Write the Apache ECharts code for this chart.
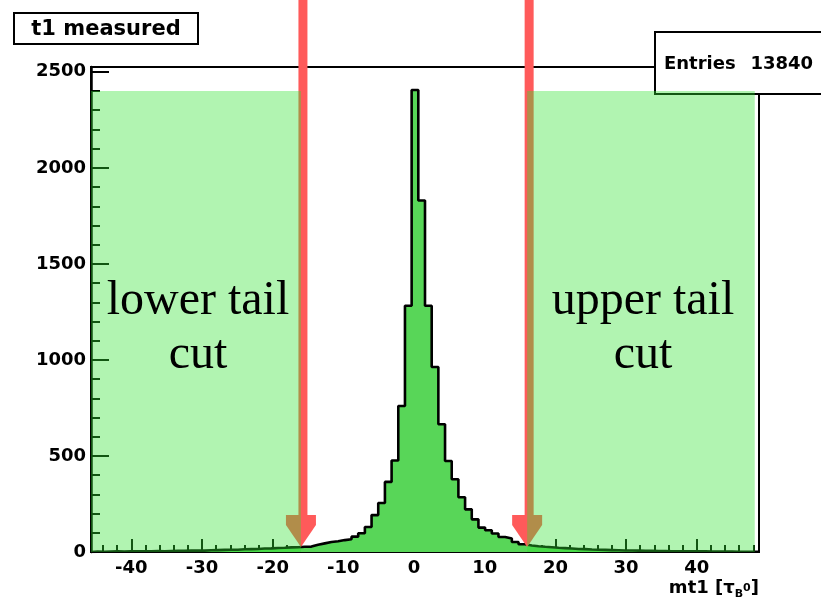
<!DOCTYPE html>
<html>
<head>
<meta charset="utf-8">
<title>t1 measured</title>
<script src="https://cdn.jsdelivr.net/npm/echarts@6/dist/echarts.min.js"></script>
<style>
    html, body { margin: 0; padding: 0; background: #ffffff; }
    #GraficoT1 { width: 821px; height: 602px; }
</style>
</head>
<body>
<div id="GraficoT1"></div>
<script>
// HISTOGRAMA mt1 CON LOS CORTES DE COLA

// rango del histograma (100 bins)
const xMin = -45.7;
const xMax = 48.8;
const yMax = 2525;

// contenido de cada bin, de izquierda a derecha
const colaIzquierda = [2, 1, 2, 3, 2, 3, 4, 3, 4, 5, 4, 5, 6, 6, 7, 8, 7, 9, 10, 11,
    12, 12, 14, 15, 16, 18, 19, 21, 22, 24, 25, 27];
const nucleo = [28, 38, 45, 52, 56, 62, 66, 80, 98, 130, 192, 255, 365, 476, 760, 1282,
    2405, 1830, 1282, 963, 665, 474, 379, 285, 222, 170, 127, 113, 96, 78, 70, 52, 40];
const colaDerecha = [34, 30, 27, 25, 22, 20, 18, 16, 15, 13, 12, 11, 10, 9, 8, 8, 7, 6, 6, 5,
    5, 4, 4, 4, 3, 3, 3, 2, 2, 2, 2, 1, 1, 1, 1];

// marcas de los ejes
const xMarcas = [-40, -30, -20, -10, 0, 10, 20, 30, 40];
const xMarcasMenores = [-44, -42, -38, -36, -34, -32, -28, -26, -24, -22, -18, -16, -14, -12,
    -8, -6, -4, -2, 2, 4, 6, 8, 12, 14, 16, 18, 22, 24, 26, 28, 32, 34, 36, 38, 42, 44, 46, 48];
const yMarcas = [0, 500, 1000, 1500, 2000, 2500];
const yMarcasMenores = [100, 200, 300, 400, 600, 700, 800, 900, 1100, 1200, 1300, 1400,
    1600, 1700, 1800, 1900, 2100, 2200, 2300, 2400];

// cortes y zonas de cola
const cortes = [-16, 16];
const zonasCola = [[-45.7, -16], [16, 48.2]];
const alturaZona = 2400;
const textosZona = ['lower tail\ncut', 'upper tail\ncut'];

const titulo = 't1 measured';
const entradas = 13840;

const fuente = 'DejaVu Sans';
const rojo = '#ff5a5a';

const iniciarGrafico = () => {
    const grafico = echarts.init(document.getElementById('GraficoT1'), null, { renderer: 'canvas' });

    const bins = colaIzquierda.concat(nucleo, colaDerecha);
    const ancho = (xMax - xMin) / bins.length;

    // puntos del contorno escalonado
    const puntos = [[xMin, 0]];
    bins.forEach((c, i) => puntos.push([xMin + i * ancho, c]));
    puntos.push([xMax, bins[bins.length - 1]]);
    puntos.push([xMax, 0]);

    const estiloEtiqueta = {
        color: '#000', fontFamily: fuente, fontWeight: 'bold', fontSize: 18,
        formatter: v => String(v)
    };

    const option = {
        animation: false,
        grid: {
            left: 91, right: 62, top: 67, bottom: 50,
            show: true, borderColor: '#000', borderWidth: 2, backgroundColor: 'transparent',
            outerBoundsMode: 'none'
        },
        xAxis: [
            {
                type: 'value', min: xMin, max: xMax, position: 'bottom',
                axisLine: { show: true, onZero: false, lineStyle: { color: '#000', width: 2 } },
                axisTick: { show: true, inside: true, length: 13, customValues: xMarcas, lineStyle: { color: '#000', width: 2 } },
                axisLabel: Object.assign({ customValues: xMarcas, margin: 7 }, estiloEtiqueta),
                splitLine: { show: false },
                name: '{m|mt1 [τ}{s|B}{o|0}{m|]}',
                nameLocation: 'end',
                nameGap: 0,
                nameMoveOverlap: false,
                nameTextStyle: {
                    align: 'right', verticalAlign: 'top', padding: [24, 0, 0, 0],
                    rich: {
                        m: { fontFamily: fuente, fontWeight: 'bold', fontSize: 18, color: '#000', lineHeight: 24, verticalAlign: 'middle' },
                        s: { fontFamily: fuente, fontWeight: 'bold', fontSize: 11, color: '#000', lineHeight: 24, verticalAlign: 'bottom' },
                        o: { fontFamily: fuente, fontWeight: 'bold', fontSize: 11, color: '#000', lineHeight: 24, verticalAlign: 'middle' }
                    }
                }
            },
            {
                type: 'value', min: xMin, max: xMax, position: 'bottom',
                axisLine: { show: false, onZero: false },
                axisTick: { show: true, inside: true, length: 7, customValues: xMarcasMenores, lineStyle: { color: '#000', width: 2 } },
                axisLabel: { show: false },
                splitLine: { show: false }
            }
        ],
        yAxis: [
            {
                type: 'value', min: 0, max: yMax, position: 'left',
                axisLine: { show: true, onZero: false, lineStyle: { color: '#000', width: 2.5 } },
                axisTick: { show: true, inside: true, length: 18, customValues: yMarcas, lineStyle: { color: '#000', width: 2 } },
                axisLabel: Object.assign({ customValues: yMarcas, margin: 5 }, estiloEtiqueta),
                splitLine: { show: false }
            },
            {
                type: 'value', min: 0, max: yMax, position: 'left',
                axisLine: { show: false, onZero: false },
                axisTick: { show: true, inside: true, length: 9, customValues: yMarcasMenores, lineStyle: { color: '#000', width: 2 } },
                axisLabel: { show: false },
                splitLine: { show: false }
            }
        ],
        series: [
            {
                name: 'mt1',
                type: 'line',
                xAxisIndex: 0, yAxisIndex: 0,
                data: puntos,
                step: 'end',
                symbol: 'none',
                silent: true,
                z: 2,
                lineStyle: { color: '#000', width: 2.6 },
                areaStyle: { color: '#58d658', opacity: 1 }
            },
            {
                // flechas rojas de los cortes
                name: 'cortes',
                type: 'custom',
                xAxisIndex: 0, yAxisIndex: 0,
                data: cortes.map(c => [c]),
                silent: true,
                z: 3,
                renderItem: (params, api) => {
                    const base = api.coord([api.value(0), 0]);
                    const px = base[0];
                    const punta = base[1] - 5;
                    return {
                        type: 'group',
                        children: [
                            { type: 'rect', shape: { x: px + 2 - 4.5, y: 0, width: 9, height: punta - 12 }, style: { fill: rojo } },
                            {
                                type: 'polygon',
                                shape: { points: [[px - 15, punta - 32], [px + 15, punta - 32], [px + 15, punta - 22], [px, punta], [px - 15, punta - 22]] },
                                style: { fill: rojo }
                            }
                        ]
                    };
                }
            },
            {
                // zonas de cola (verde transparente) con su texto
                name: 'colas',
                type: 'custom',
                xAxisIndex: 0, yAxisIndex: 0,
                data: zonasCola.map((z, i) => [z[0], z[1], alturaZona, i]),
                silent: true,
                z: 4,
                renderItem: (params, api) => {
                    const p0 = api.coord([api.value(0), api.value(2)]);
                    const p1 = api.coord([api.value(1), 0]);
                    return {
                        type: 'group',
                        children: [
                            {
                                type: 'rect',
                                shape: { x: p0[0], y: p0[1], width: p1[0] - p0[0], height: p1[1] - p0[1] },
                                style: { fill: 'rgba(50,225,50,0.38)' }
                            },
                            {
                                type: 'text',
                                x: (p0[0] + p1[0]) / 2 + 2,
                                y: (p0[1] + p1[1]) / 2 + 7,
                                style: {
                                    text: textosZona[api.value(3)],
                                    font: '48px "Liberation Serif"',
                                    fill: '#000',
                                    align: 'center',
                                    verticalAlign: 'middle',
                                    lineHeight: 54
                                }
                            }
                        ]
                    };
                }
            }
        ],
        graphic: [
            {
                type: 'group', left: 13, top: 12, z: 100,
                children: [
                    { type: 'rect', shape: { x: 0, y: 0, width: 184, height: 31 }, style: { fill: '#fff', stroke: '#000', lineWidth: 2 } },
                    { type: 'text', x: 92, y: 17, style: { text: titulo, font: 'bold 21px "DejaVu Sans"', fill: '#000', align: 'center', verticalAlign: 'middle' } }
                ]
            },
            {
                type: 'group', left: 654, top: 31, z: 100,
                children: [
                    { type: 'rect', shape: { x: 0, y: 0, width: 200, height: 62 }, style: { fill: '#fff', stroke: '#000', lineWidth: 2 } },
                    { type: 'text', x: 9, y: 32, style: { text: 'Entries', font: 'bold 18px "DejaVu Sans"', fill: '#000', align: 'left', verticalAlign: 'middle' } },
                    { type: 'text', x: 158, y: 32, style: { text: String(entradas), font: 'bold 18px "DejaVu Sans"', fill: '#000', align: 'right', verticalAlign: 'middle' } }
                ]
            }
        ]
    };

    grafico.setOption(option);
};

window.addEventListener('load', () => {
    iniciarGrafico();
});
</script>
</body>
</html>
